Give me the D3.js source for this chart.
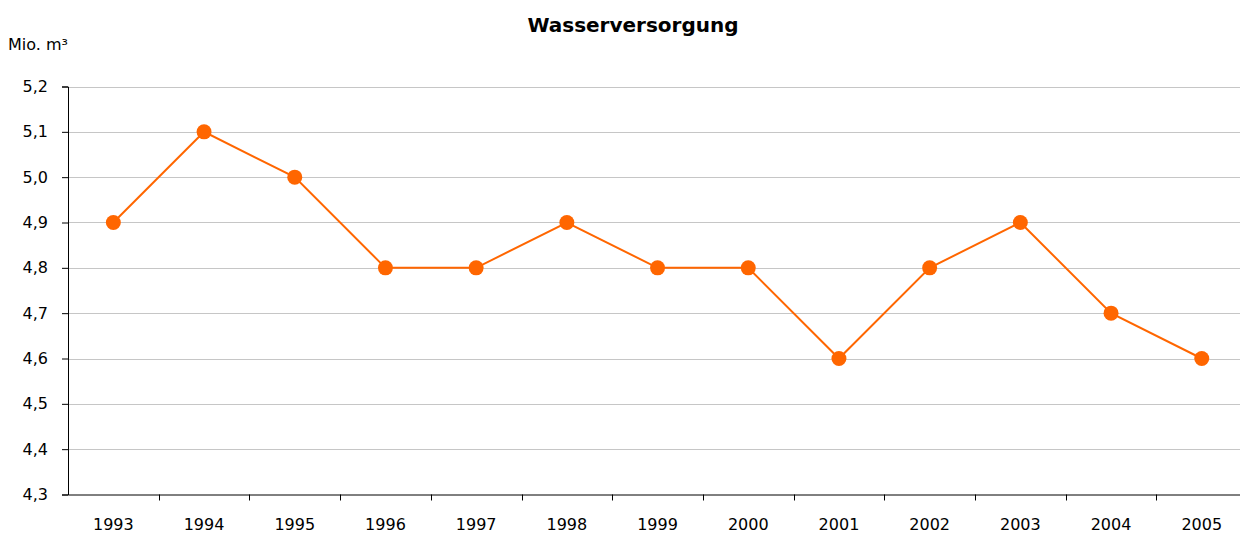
<!DOCTYPE html>
<html>
<head>
<meta charset="utf-8">
<title>Wasserversorgung</title>
<script src="https://d3js.org/d3.v7.min.js"></script>
<style>
  body { margin: 0; background: #fff; }
  svg { display: block; font-family: "DejaVu Sans", Verdana, sans-serif; }
  .axis text { font-family: "DejaVu Sans", Verdana, sans-serif; font-size: 16px; fill: #000; }
  .grid line { stroke: #c6c6c6; }
</style>
</head>
<body>
<script>
// Data
var years = ["1993","1994","1995","1996","1997","1998","1999","2000","2001","2002","2003","2004","2005"];
var values = [4.9, 5.1, 5.0, 4.8, 4.8, 4.9, 4.8, 4.8, 4.6, 4.8, 4.9, 4.7, 4.6];
var yTicks = [4.3, 4.4, 4.5, 4.6, 4.7, 4.8, 4.9, 5.0, 5.1, 5.2];

var width = 1240, height = 534;
var plotLeft = 68, plotTop = 86.5, plotBottom = 494.5;
var bandW = 90.7;

var svg = d3.select("body").append("svg")
  .attr("width", width)
  .attr("height", height);

var x = d3.scaleBand()
  .domain(years)
  .range([plotLeft, plotLeft + bandW * years.length]);

var y = d3.scaleLinear()
  .domain([4.3, 5.2])
  .range([plotBottom, plotTop]);

var fmt = function(d) { return d3.format(".1f")(d).replace(".", ","); };

// grid lines
svg.append("g")
  .attr("class", "grid")
  .selectAll("line")
  .data(yTicks.slice(1))
  .enter().append("line")
  .attr("x1", plotLeft).attr("x2", x.range()[1])
  .attr("y1", function(d) { return Math.round(y(d)) + 0.5; })
  .attr("y2", function(d) { return Math.round(y(d)) + 0.5; });

// y axis
var yAxis = svg.append("g")
  .attr("class", "axis")
  .attr("transform", "translate(" + plotLeft + ",0)")
  .call(d3.axisLeft(y).tickValues(yTicks).tickFormat(fmt).tickSize(6).tickPadding(14));
yAxis.selectAll("line, path").attr("stroke", "#000");

// x axis, ticks between categories
var xAxis = svg.append("g")
  .attr("class", "axis")
  .attr("transform", "translate(0," + plotBottom + ")")
  .call(d3.axisBottom(x).tickSize(0).tickPadding(24));
xAxis.select(".domain").attr("stroke", "#000");
xAxis.selectAll(".sep")
  .data(years.slice(1))
  .enter().append("line")
  .attr("class", "sep")
  .attr("x1", function(d) { return Math.round(x(d)) + 0.5; })
  .attr("x2", function(d) { return Math.round(x(d)) + 0.5; })
  .attr("y1", 0).attr("y2", 6)
  .attr("stroke", "#000");

// line + markers
var line = d3.line()
  .x(function(d, i) { return x(years[i]) + x.bandwidth() / 2; })
  .y(function(d) { return y(d); });

svg.append("path")
  .datum(values)
  .attr("d", line)
  .attr("fill", "none")
  .attr("stroke", "#ff6600")
  .attr("stroke-width", 2);

svg.selectAll(".dot")
  .data(values)
  .enter().append("circle")
  .attr("class", "dot")
  .attr("cx", function(d, i) { return x(years[i]) + x.bandwidth() / 2; })
  .attr("cy", function(d) { return y(d); })
  .attr("r", 7.5)
  .attr("fill", "#ff6600");

// title and unit
svg.append("text")
  .attr("x", 633).attr("y", 32)
  .attr("text-anchor", "middle")
  .attr("font-size", "20px")
  .attr("font-weight", "bold")
  .text("Wasserversorgung");

svg.append("text")
  .attr("x", 8).attr("y", 50)
  .attr("font-size", "16px")
  .text("Mio. m³");
</script>
</body>
</html>
